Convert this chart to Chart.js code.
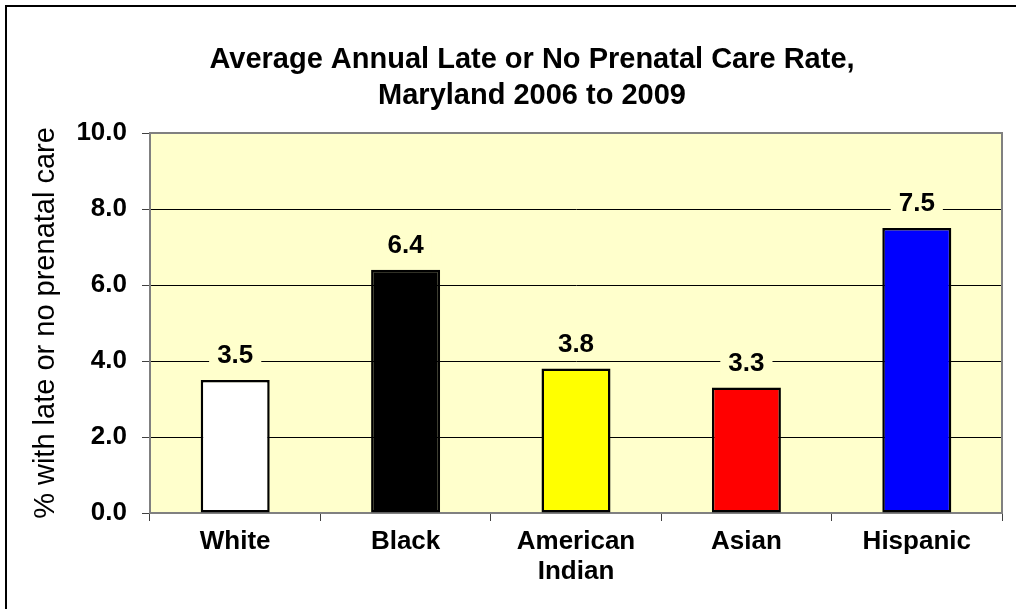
<!DOCTYPE html>
<html>
<head>
<meta charset="utf-8">
<script src="https://cdn.jsdelivr.net/npm/chart.js@4.4.1/dist/chart.umd.min.js"></script>
<style>
  body { margin: 0; background: #fff; }
  canvas { display: block; }
</style>
</head>
<body>
<canvas id="careChart" width="1016" height="609"></canvas>
<script>
// Late or no prenatal care, Maryland 2006-2009, by race/ethnicity
var groups = ['White', 'Black', ['American', 'Indian'], 'Asian', 'Hispanic'];
var rates = [3.5, 6.4, 3.8, 3.3, 7.5];
var barColors = ['#FFFFFF', '#000000', '#FFFF00', '#FF0000', '#0000FF'];
var titleLines = ['Average Annual Late or No Prenatal Care Rate,', 'Maryland 2006 to 2009'];
var yTitle = '% with late or no prenatal care';

var FONT = "'Liberation Sans', Arial, Helvetica, sans-serif";
var PLOT_BG = '#FFFFCC';
Chart.defaults.font.family = FONT;
Chart.defaults.color = '#000';

// white page, frame, yellow plot area
const backdrop = {
    id: 'backdrop',
    beforeDraw(chart) {
        const ctx = chart.ctx, a = chart.chartArea;
        ctx.save();
        ctx.fillStyle = '#fff';
        ctx.fillRect(0, 0, chart.width, chart.height);
        ctx.strokeStyle = '#000';
        ctx.lineWidth = 2;
        ctx.strokeRect(6, 6, chart.width + 20, chart.height + 20);
        ctx.fillStyle = PLOT_BG;
        ctx.fillRect(a.left, a.top, a.right - a.left, a.bottom - a.top);
        ctx.restore();
    },
    afterDraw(chart) {
        const ctx = chart.ctx, a = chart.chartArea;
        ctx.save();
        ctx.strokeStyle = '#808080';
        ctx.lineWidth = 2;
        ctx.beginPath();
        ctx.moveTo(a.left, a.top);
        ctx.lineTo(a.right, a.top);
        ctx.lineTo(a.right, a.bottom);
        ctx.stroke();

        // chart title, two lines
        ctx.fillStyle = '#000';
        ctx.font = 'bold 29px ' + FONT;
        ctx.textAlign = 'center';
        ctx.textBaseline = 'alphabetic';
        ctx.fillText(titleLines[0], 532, 68);
        ctx.fillText(titleLines[1], 532, 104);
        ctx.restore();
    }
};

// value above each bar, on a yellow patch that hides the gridline
const valueLabels = {
    id: 'valueLabels',
    afterDatasetsDraw(chart) {
        const ctx = chart.ctx;
        const meta = chart.getDatasetMeta(0);
        ctx.save();
        ctx.font = 'bold 26px ' + FONT;
        ctx.textAlign = 'center';
        ctx.textBaseline = 'alphabetic';
        meta.data.forEach(function (bar, i) {
            const txt = rates[i].toFixed(1);
            const w = ctx.measureText(txt).width;
            const base = bar.y - 17;
            ctx.fillStyle = PLOT_BG;
            ctx.fillRect(bar.x - w / 2 - 8, base - 22, w + 16, 28);
            ctx.fillStyle = '#000';
            ctx.fillText(txt, bar.x, base);
        });
        ctx.restore();
    }
};

new Chart(document.getElementById('careChart'), {
    type: 'bar',
    data: {
        labels: groups,
        datasets: [{
            data: rates,
            backgroundColor: barColors,
            borderColor: '#000',
            borderWidth: 2.5,
            borderSkipped: false,
            barPercentage: 0.405,
            categoryPercentage: 1
        }]
    },
    options: {
        responsive: false,
        animation: false,
        layout: { padding: { top: 133, left: 0, right: 14, bottom: 0 } },
        plugins: {
            legend: { display: false },
            title: { display: false },
            tooltip: { enabled: false }
        },
        scales: {
            x: {
                grid: {
                    offset: true,
                    drawOnChartArea: false,
                    tickLength: 8,
                    tickColor: '#404040'
                },
                border: { color: '#808080', width: 2 },
                ticks: {
                    font: { size: 26, weight: 'bold', lineHeight: 1.15 },
                    color: '#000',
                    padding: 6,
                    maxRotation: 0
                },
                afterFit: function (scale) { scale.height = 96; }
            },
            y: {
                min: 0,
                max: 10,
                ticks: {
                    stepSize: 2,
                    font: { size: 26, weight: 'bold' },
                    color: '#000',
                    padding: 15,
                    callback: function (v) { return v.toFixed(1); }
                },
                grid: {
                    color: function (c) {
                        return (c.tick && (c.tick.value === 0 || c.tick.value === 10)) ? 'rgba(0,0,0,0)' : '#000';
                    },
                    lineWidth: 1,
                    tickLength: 8,
                    tickColor: '#404040'
                },
                border: { color: '#808080', width: 2 },
                title: {
                    display: true,
                    text: yTitle,
                    font: { size: 29, weight: 'normal' },
                    color: '#000',
                    padding: { top: 29, bottom: 0 }
                },
                afterFit: function (scale) { scale.width = 150; }
            }
        }
    },
    plugins: [backdrop, valueLabels]
});
</script>
</body>
</html>
